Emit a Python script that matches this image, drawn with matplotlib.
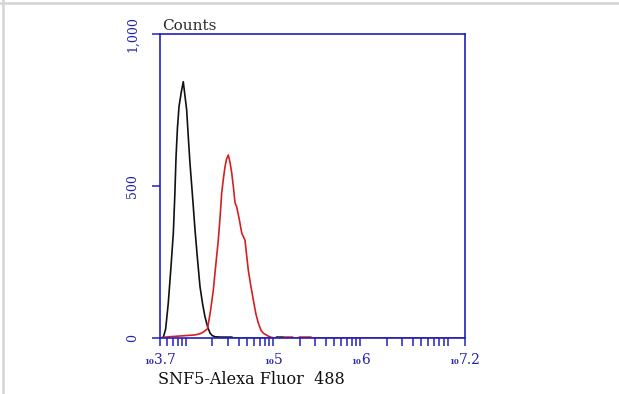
import numpy as np
import matplotlib
matplotlib.use("Agg")
import matplotlib.pyplot as plt
from matplotlib.lines import Line2D
from matplotlib.offsetbox import TextArea, HPacker, AnnotationBbox

# ---- data (log10 of intensity, counts) ----
black_log = [3.70, 3.738, 3.765, 3.795, 3.825, 3.853, 3.870, 3.884, 3.900, 3.918,
             3.945, 3.967, 3.985, 4.006, 4.025, 4.044, 4.075, 4.102, 4.130, 4.159,
             4.190, 4.216, 4.245, 4.274, 4.300, 4.331, 4.40, 4.45, 4.52, 4.55,
             5.02, 5.04, 5.11, 5.13, 7.2]
black_counts = [0, 2, 30, 115, 230, 345, 470, 596, 690, 761,
                810, 843, 800, 750, 660, 575, 460, 355, 260, 169,
                110, 70, 38, 16, 8, 4, 3, 3, 3, 0,
                0, 3, 3, 0, 0]

red_log = [3.70, 3.74, 3.80, 3.90, 4.00, 4.10, 4.16, 4.20, 4.245, 4.28,
           4.312, 4.340, 4.369, 4.390, 4.408, 4.430, 4.446, 4.465, 4.484, 4.505,
           4.523, 4.545, 4.561, 4.580, 4.610, 4.638, 4.675, 4.713, 4.740, 4.771,
           4.800, 4.828, 4.860, 4.885, 4.943, 4.98, 5.02, 5.10, 5.12, 5.22,
           5.24, 5.28, 5.30, 5.43, 5.45, 7.2]
red_counts = [0, 2, 4, 6, 8, 10, 14, 20, 30, 90,
              158, 240, 322, 400, 477, 530, 563, 590, 602, 575,
              543, 490, 444, 432, 390, 345, 322, 224, 175, 125,
              80, 49, 25, 16, 6, 2, 0, 0, 3, 3,
              0, 0, 3, 3, 0, 0]

x_label_pos = [3.7, 5, 6, 7.2]
x_label_exps = ["3.7", "5", "6", "7.2"]
y_ticks = [0, 500, 1000]
y_tick_labels = ["0", "500", "1,000"]
x_title = "SNF5-Alexa Fluor  488"
y_title = "Counts"

BLUE = "#2020c0"
LBLUE = "#2222aa"
SERIF = "DejaVu Serif"

fig = plt.figure(figsize=(6.19, 3.94), dpi=100)
fig.patch.set_facecolor("white")
W, H = 619, 394
ax = fig.add_axes([160 / W, 1 - 338 / H, 305 / W, 304 / H])

ax.plot(10 ** np.array(black_log), black_counts, color="#111111", lw=1.2, zorder=2)
ax.plot(10 ** np.array(red_log), red_counts, color="#d42020", lw=1.2, zorder=2.1)

ax.set_xscale("log")
ax.set_xlim(10 ** 3.7, 10 ** 7.2)
ax.set_ylim(0, 1000)

for sp in ax.spines.values():
    sp.set_color(BLUE)
    sp.set_linewidth(1.2)
    sp.set_zorder(3)

# x ticks
major = [10 ** v for v in x_label_pos]
minor = []
for e in range(3, 8):
    for k in range(1, 10):
        v = k * 10 ** e
        if 10 ** 3.7 < v < 10 ** 7.2 and all(abs(np.log10(v) - m) > 1e-6 for m in x_label_pos):
            minor.append(v)
ax.set_xticks(major)
ax.set_xticks(minor, minor=True)
ax.set_xticklabels([])
ax.xaxis.set_minor_formatter(matplotlib.ticker.NullFormatter())
ax.tick_params(axis="x", which="both", direction="out", length=6, width=1.1, color=BLUE, labelbottom=False)

for exp_str, val in zip(x_label_exps, x_label_pos):
    box = HPacker(children=[
        TextArea("10", textprops=dict(size=5, color=LBLUE, weight="bold", family=SERIF)),
        TextArea(exp_str, textprops=dict(size=10, color=LBLUE, family=SERIF)),
    ], align="baseline", pad=0, sep=0)
    ab = AnnotationBbox(box, (10 ** val, 0), xycoords=("data", "axes fraction"),
                        xybox=(0, -22), boxcoords="offset pixels", frameon=False,
                        box_alignment=(0.5, 0.5), annotation_clip=False)
    ax.add_artist(ab)

# y ticks
ax.set_yticks(y_ticks)
ax.set_yticklabels(y_tick_labels, family=SERIF, fontsize=9, color=LBLUE)
ax.tick_params(axis="y", which="both", direction="out", length=6, width=1.1, color=BLUE,
               labelrotation=90, pad=9)
for lab in ax.get_yticklabels():
    lab.set_va("center")

fig.text(162 / W, 1 - 30 / H, y_title, va="baseline", ha="left", fontsize=11,
         family=SERIF, color="#2a2a2a")
fig.text(158 / W, 1 - 384 / H, x_title, va="baseline", ha="left", fontsize=11.5,
         family=SERIF, color="#111111")

# light screenshot border
fig.add_artist(Line2D([3 / W, 3 / W], [0, 1], transform=fig.transFigure, color="#d4d4d4", lw=1.8))
fig.add_artist(Line2D([0, 1], [1 - 3 / H, 1 - 3 / H], transform=fig.transFigure, color="#d4d4d4", lw=1.8))

fig.savefig("out.png", dpi=100, facecolor="white")
